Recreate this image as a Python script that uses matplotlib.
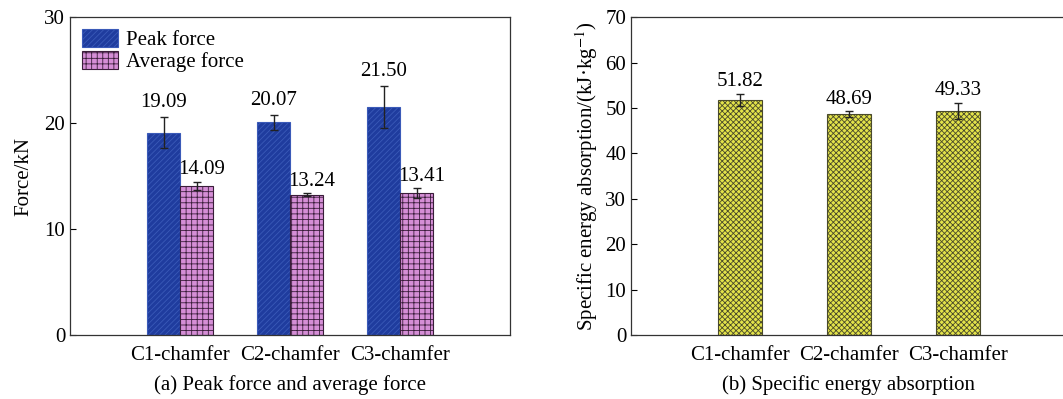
import numpy as np
import matplotlib.pyplot as plt

plt.rcParams['font.family'] = ['Liberation Serif', 'DejaVu Serif']
plt.rcParams['mathtext.fontset'] = 'stix'
plt.rcParams['hatch.linewidth'] = 0.6

# data
categories = ["C1-chamfer", "C2-chamfer", "C3-chamfer"]
peak_force = [19.09, 20.07, 21.50]
peak_err = [1.45, 0.7, 2.0]
avg_force = [14.09, 13.24, 13.41]
avg_err = [0.4, 0.15, 0.45]
sea = [51.82, 48.69, 49.33]
sea_err = [1.3, 0.6, 1.8]

fs = 15

fig = plt.figure(figsize=(10.63, 3.99), dpi=100)
ax1 = fig.add_axes([0.0659, 0.160, 0.414, 0.797])
ax2 = fig.add_axes([0.5936, 0.160, 0.410, 0.797])

x = np.arange(len(categories))
w = 0.3
ax1.bar(x - w / 2, peak_force, w, yerr=peak_err, color="#1f3c9e",
        edgecolor="#3a5ab8", hatch="//////", linewidth=0.8,
        error_kw=dict(ecolor="#222222", capsize=3, elinewidth=1),
        label="Peak force")
ax1.bar(x + w / 2, avg_force, w, yerr=avg_err, color="#d58ed6",
        edgecolor="#3a1d3a", hatch="+++", linewidth=0.8,
        error_kw=dict(ecolor="#222222", capsize=3, elinewidth=1),
        label="Average force")
for xi, v, e in zip(x - w / 2, peak_force, peak_err):
    ax1.text(xi, v + e + 0.5, f"{v:.2f}", ha="center", va="bottom", fontsize=fs)
for xi, v, e in zip(x + w / 2, avg_force, avg_err):
    ax1.text(xi + 0.05, v + e + 0.2, f"{v:.2f}", ha="center", va="bottom", fontsize=fs)

ax1.set_xlim(-1, 3)
ax1.set_ylim(0, 30)
ax1.set_yticks([0, 10, 20, 30])
ax1.set_xticks(x)
ax1.set_xticklabels(categories)
ax1.set_ylabel("Force/kN", fontsize=fs, labelpad=8)
ax1.set_xlabel("(a) Peak force and average force", fontsize=fs, labelpad=7)
ax1.legend(loc="upper left", frameon=False, fontsize=fs, handlelength=1.75,
           handleheight=0.95, labelspacing=0.05, borderaxespad=0.15,
           handletextpad=0.4)

w2 = 0.4
ax2.bar(x, sea, w2, yerr=sea_err, color="#e3e34a", edgecolor="#4a4a2a",
        hatch="xxxxxx", linewidth=0.8,
        error_kw=dict(ecolor="#222222", capsize=3, elinewidth=1))
for xi, v, e in zip(x, sea, sea_err):
    ax2.text(xi, v + e + 0.6, f"{v:.2f}", ha="center", va="bottom", fontsize=fs)
ax2.set_xlim(-1, 3)
ax2.set_ylim(0, 70)
ax2.set_yticks(range(0, 71, 10))
ax2.set_xticks(x)
ax2.set_xticklabels(categories)
ax2.set_ylabel("Specific energy absorption/(kJ·kg$^{-1}$)", fontsize=fs)
ax2.set_xlabel("(b) Specific energy absorption", fontsize=fs, labelpad=7)

for ax in (ax1, ax2):
    ax.tick_params(axis="y", direction="in", length=4, labelsize=fs, right=False)
    ax.tick_params(axis="x", length=0, labelsize=fs, pad=8)
    for s in ax.spines.values():
        s.set_linewidth(0.9)
        s.set_color("#333333")

fig.savefig("out.png", dpi=100)
